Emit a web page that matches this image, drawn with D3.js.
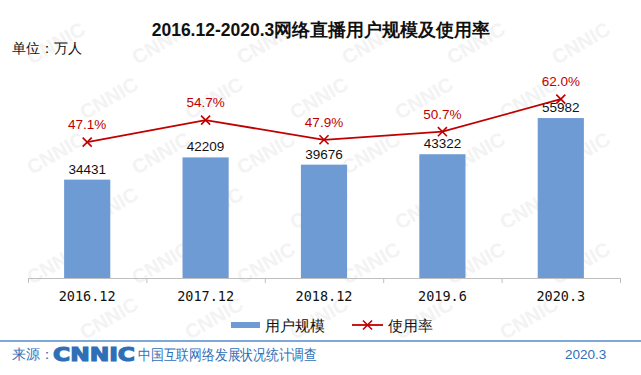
<!DOCTYPE html>
<html>
<head>
<meta charset="utf-8">
<script src="https://cdn.jsdelivr.net/npm/d3@7"></script>
<style>
  html, body { margin: 0; padding: 0; background: #fff; }
  svg { display: block; }
</style>
</head>
<body>
<div id="chart"></div>
<script>
const categories = ["2016.12", "2017.12", "2018.12", "2019.6", "2020.3"];
const users = [34431, 42209, 39676, 43322, 55982];
const rates = [47.1, 54.7, 47.9, 50.7, 62.0];

const title = "2016.12-2020.3网络直播用户规模及使用率";
const unitLabel = "单位：万人";
const legendBar = "用户规模";
const legendLine = "使用率";

const width = 641;
const height = 375;
const blue = "#6f9bd4";
const red = "#c00000";
const footBlue = "#2f6fb7";

const svg = (d3.select("#chart").append("svg")
             .attr("viewBox", [0, 0, width, height])
             .attr("width", width)
             .attr("height", height)
             .style("font-family", "'Liberation Sans', Arial, sans-serif"));

// watermark, kept inside the frame
const wm = svg.append("g").attr("fill", "#f3f3f3").attr("font-weight", "bold")
  .attr("font-size", 20);
for (let row = 0; row < 8; row++) {
  for (let col = 0; col < 8; col++) {
    const wx = col * 105 + (row % 2) * 52 - 20;
    const wy = row * 55 + 10;
    if (wx < 3 || wx > 575 || wy < 40 || wy > 372) continue;
    wm.append("text")
      .attr("transform", `translate(${wx},${wy}) rotate(-30)`)
      .text("CNNIC");
  }
}

const x = (d3.scaleBand()
           .domain(categories)
           .range([28, 620])
           .paddingInner(0.61)
           .paddingOuter(0.305));

const y = (d3.scaleLinear()
           .domain([0, 70000])
           .range([278, 78]));

const y2 = (d3.scaleLinear()
            .domain([0, 70])
            .range([278, 76]));

svg.append("text")
  .attr("x", 321).attr("y", 36)
  .attr("text-anchor", "middle")
  .attr("font-size", 17.5).attr("font-weight", "bold")
  .attr("fill", "#111")
  .text(title);

svg.append("text")
  .attr("x", 12).attr("y", 53)
  .attr("font-size", 13.5)
  .attr("fill", "#111")
  .text(unitLabel);

// bars
svg.append("g")
  .selectAll("rect")
  .data(users)
  .join("rect")
  .attr("x", (d, i) => x(categories[i]))
  .attr("y", (d) => y(d))
  .attr("width", x.bandwidth())
  .attr("height", (d) => y(0) - y(d))
  .attr("fill", blue);

svg.append("g")
  .selectAll("text")
  .data(users)
  .join("text")
  .attr("x", (d, i) => x(categories[i]) + x.bandwidth() / 2)
  .attr("y", (d) => y(d) - 6)
  .attr("text-anchor", "middle")
  .attr("font-size", 13.5)
  .attr("fill", "#111")
  .text((d) => d);

// x axis
const outer = d3.scalePoint().domain(d3.range(categories.length + 1)).range([28, 620]);
const axis = svg.append("g");
axis.append("line")
  .attr("x1", 28).attr("x2", 620).attr("y1", 278.5).attr("y2", 278.5)
  .attr("stroke", "#bfbfbf");
axis.selectAll(".tick")
  .data(outer.domain())
  .join("line")
  .attr("x1", (d) => outer(d) + 0.5).attr("x2", (d) => outer(d) + 0.5)
  .attr("y1", 278).attr("y2", 283)
  .attr("stroke", "#bfbfbf");
axis.selectAll("text")
  .data(categories)
  .join("text")
  .attr("x", (d) => x(d) + x.bandwidth() / 2)
  .attr("y", 301)
  .attr("text-anchor", "middle")
  .attr("font-size", 13.5)
  .attr("font-family", "'DejaVu Sans Mono', monospace")
  .attr("fill", "#111")
  .text((d) => d);

// rate line
const cx = (i) => x(categories[i]) + x.bandwidth() / 2;
const line = d3.line()
  .x((d, i) => cx(i))
  .y((d) => y2(d));

svg.append("path")
  .datum(rates)
  .attr("d", line)
  .attr("fill", "none")
  .attr("stroke", red)
  .attr("stroke-width", 1.8);

const cross = d3.symbol().type(d3.symbolX).size(55);
svg.append("g")
  .selectAll("path")
  .data(rates)
  .join("path")
  .attr("transform", (d, i) => `translate(${cx(i)},${y2(d)})`)
  .attr("d", cross)
  .attr("fill", "none")
  .attr("stroke", red)
  .attr("stroke-width", 1.6);

svg.append("g")
  .selectAll("text")
  .data(rates)
  .join("text")
  .attr("x", (d, i) => cx(i))
  .attr("y", (d) => y2(d) - 13)
  .attr("text-anchor", "middle")
  .attr("font-size", 13.5)
  .attr("fill", red)
  .text((d) => d.toFixed(1) + "%");

// legend
const lg = svg.append("g").attr("font-size", 14.5).attr("fill", "#111");
lg.append("rect").attr("x", 231).attr("y", 322).attr("width", 29).attr("height", 6).attr("fill", blue);
lg.append("text").attr("x", 265).attr("y", 331).text(legendBar);
lg.append("line").attr("x1", 352).attr("x2", 383).attr("y1", 325).attr("y2", 325)
  .attr("stroke", red).attr("stroke-width", 1.8);
lg.append("path").attr("transform", "translate(367.5,325)").attr("d", cross)
  .attr("fill", "none").attr("stroke", red).attr("stroke-width", 1.6);
lg.append("text").attr("x", 388).attr("y", 331).text(legendLine);

// footer
svg.append("line")
  .attr("x1", 0).attr("x2", width).attr("y1", 341).attr("y2", 341)
  .attr("stroke", "#7ea7da").attr("stroke-width", 2);
const ft = svg.append("g").attr("fill", footBlue);
ft.append("text").attr("x", 12).attr("y", 359).attr("font-size", 14).text("来源：");
ft.append("text").attr("x", 53).attr("y", 361)
  .attr("font-size", 19).attr("font-weight", "bold")
  .attr("font-family", "'DejaVu Sans', sans-serif")
  .attr("textLength", 82).attr("lengthAdjust", "spacingAndGlyphs")
  .attr("stroke", footBlue).attr("stroke-width", 1.2)
  .text("CNNIC");
ft.append("text").attr("x", 138).attr("y", 360).attr("font-size", 14.5)
  .attr("textLength", 179).attr("lengthAdjust", "spacingAndGlyphs")
  .text("中国互联网络发展状况统计调查");
ft.append("text").attr("x", 565).attr("y", 359).attr("font-size", 13.5).text("2020.3");
</script>
</body>
</html>
